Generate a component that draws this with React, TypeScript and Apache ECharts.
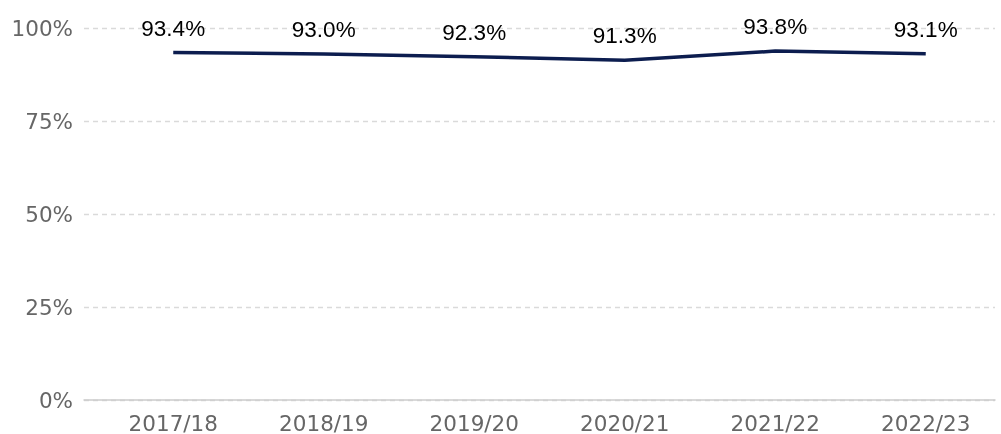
import React, { useEffect, useRef } from "react";
import * as echarts from "echarts";

const categories = ["2017/18", "2018/19", "2019/20", "2020/21", "2021/22", "2022/23"];
const values = [93.4, 93.0, 92.3, 91.3, 93.8, 93.1];
const yTicks = [0, 25, 50, 75, 100];

export default function App() {
  const ref = useRef<HTMLDivElement>(null);
  useEffect(() => {
    if (!ref.current) return;
    const chart = echarts.init(ref.current, undefined, { renderer: "svg" });
    chart.setOption({
      animation: false,
      grid: [
        { left: 84, right: 6, top: 28, bottom: 34 },
        { left: 98, right: 0, top: 28, bottom: 34 },
      ],
      xAxis: [
        {
          gridIndex: 0,
          type: "value",
          min: 0,
          max: 1,
          axisLine: { show: true, lineStyle: { color: "#cccccc", width: 1.5 } },
          axisTick: { show: false },
          axisLabel: { show: false },
          splitLine: { show: false },
        },
        {
          gridIndex: 1,
          type: "category",
          data: categories,
          boundaryGap: true,
          axisLine: { show: false },
          axisTick: { show: false },
          axisLabel: {
            color: "#666666",
            fontSize: 21.5,
            fontFamily: "DejaVu Sans",
            margin: 12,
          },
          splitLine: { show: false },
        },
      ],
      yAxis: [
        {
          gridIndex: 0,
          type: "value",
          min: yTicks[0],
          max: yTicks[yTicks.length - 1],
          interval: 25,
          axisLine: { show: false },
          axisTick: { show: false },
          axisLabel: {
            color: "#666666",
            fontSize: 21.5,
            fontFamily: "DejaVu Sans",
            margin: 11,
            formatter: (v: number) => `${v}%`,
          },
          splitLine: {
            show: true,
            lineStyle: { color: "#dadada", type: [5, 4], width: 1.3 },
          },
        },
        {
          gridIndex: 1,
          type: "value",
          min: 0,
          max: 100,
          show: false,
          splitLine: { show: false },
        },
      ],
      series: [
        {
          type: "line",
          xAxisIndex: 1,
          yAxisIndex: 1,
          data: values,
          symbol: "circle",
          symbolSize: 2,
          showSymbol: true,
          itemStyle: { color: "rgba(12,29,79,0)" },
          lineStyle: { color: "#0c1d4f", width: 3.5 },
          label: {
            show: true,
            position: "top",
            distance: 12,
            color: "#000000",
            fontSize: 22.5,
            fontFamily: "Liberation Sans",
            formatter: (p: any) => `${Number(p.value).toFixed(1)}%`,
          },
        },
      ],
    });
    return () => chart.dispose();
  }, []);
  return <div ref={ref} style={{ width: 1001, height: 434, position: "fixed", left: 0, top: 0 }} />;
}
